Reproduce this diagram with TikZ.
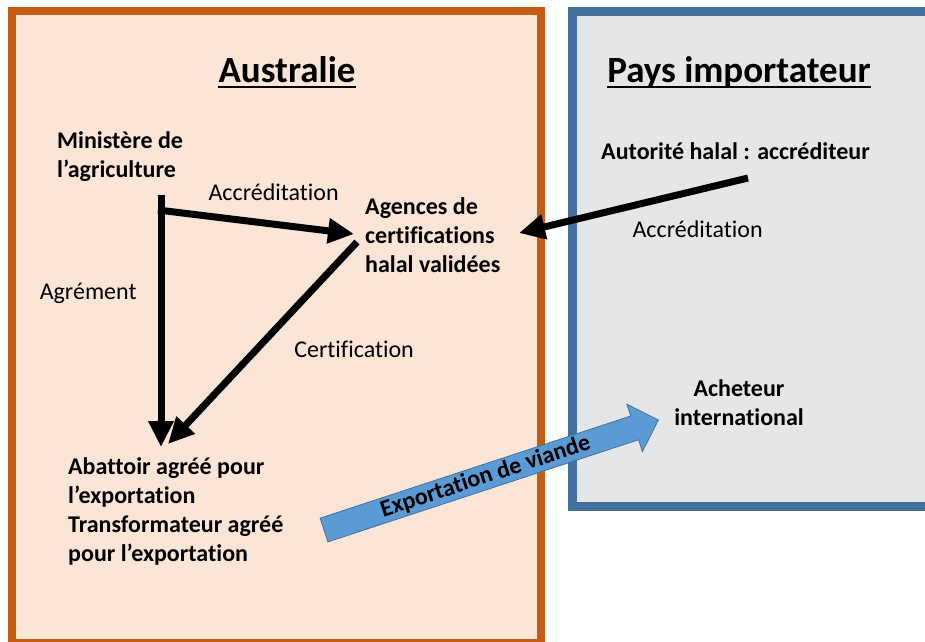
\documentclass[tikz,border=0pt]{standalone}
\usepackage{fontspec}
\setmainfont{Carlito}[Ligatures={TeX,NoCommon}]
\usetikzlibrary{arrows.meta,positioning}

\definecolor{ausfill}{HTML}{FBE5D6}
\definecolor{ausline}{HTML}{C55A11}
\definecolor{impfill}{HTML}{E7E6E6}
\definecolor{impline}{HTML}{41719C}
\definecolor{expfill}{HTML}{5B9BD5}

\tikzset{
  actor/.style={font=\bfseries\fontsize{24}{29}\selectfont,align=left,inner sep=0pt},
  lbl/.style={font=\fontsize{24}{29}\selectfont,inner sep=0pt},
  title/.style={font=\bfseries\fontsize{37}{44}\selectfont,inner sep=0pt,anchor=base},
  flow/.style={line width=7pt,-{Triangle[length=26pt,width=24pt]}},
  expo/.style={draw=impline,fill=expfill,line width=0.8pt,line join=miter}
}

\begin{document}
\begin{tikzpicture}[x=1pt,y=-1pt]
 \clip (0,0) rectangle (925,641);
 % the two countries
 \draw[ausline,fill=ausfill,line width=8pt] (12,11) rectangle (541,643);
 \draw[impline,fill=impfill,line width=9pt] (572.5,11.5) rectangle (940,506);
 \node[title] (aus) at (287,82) {Australie};
 \node[title] (imp) at (739,82) {Pays importateur};
 \draw[line width=2.5pt] ([yshift=-5pt]aus.base west) -- ([yshift=-5pt]aus.base east);
 \draw[line width=2.5pt] ([yshift=-5pt]imp.base west) -- ([yshift=-5pt]imp.base east);

 % actors
 \node[actor,anchor=west] (min) at (57,157) {Ministère de\\l’agriculture};
 \node[actor,anchor=west] (agences) at (365,235) {Agences de\\certifications\\halal validées};
 \node[actor,anchor=west] (abattoir) at (68,511.5) {Abattoir agréé pour\\l’exportation\\Transformateur agréé\\pour l’exportation};
 \node[actor,anchor=west] (autorite) at (601,151) {Autorité halal : accréditeur};
 \node[actor,align=center] (acheteur) at (739,403) {Acheteur\\international};

 % arrow ends
 \coordinate (minfoot) at (161,195);
 \coordinate (minfork) at (158,210);
 \coordinate (abtop) at (161,447);
 \coordinate (abtopr) at (168,444);
 \coordinate (agin) at (354,234);
 \coordinate (agout) at (357,242);
 \coordinate (autfoot) at (748,178);
 \coordinate (agright) at (519,233);

 \draw[flow] (minfoot) -- node[lbl,pos=0.39,left=21pt] (lagr) {Agrément} (abtop);
 \draw[flow] (minfork) -- node[lbl,pos=0.59,above=20pt] (laccr) {Accréditation} (agin);
 \draw[flow] (agout) -- node[lbl,pos=0.53,right=34pt] (lcert) {Certification} (abtopr);
 \draw[flow] (autfoot) -- node[lbl,pos=0.22,below=27pt] (laccr2) {Accréditation} (agright);

 % meat export
 \begin{scope}[shift={(324,530)},rotate=18.2]
  \draw[expo] (0,-12.5) -- (327,-12.5) -- (327,-25) -- (352,0) -- (327,25)
    -- (327,12.5) -- (0,12.5) -- cycle;
  \node[actor,rotate=18.2] (export) at (170,0) {Exportation de viande};
 \end{scope}
\end{tikzpicture}
\end{document}
